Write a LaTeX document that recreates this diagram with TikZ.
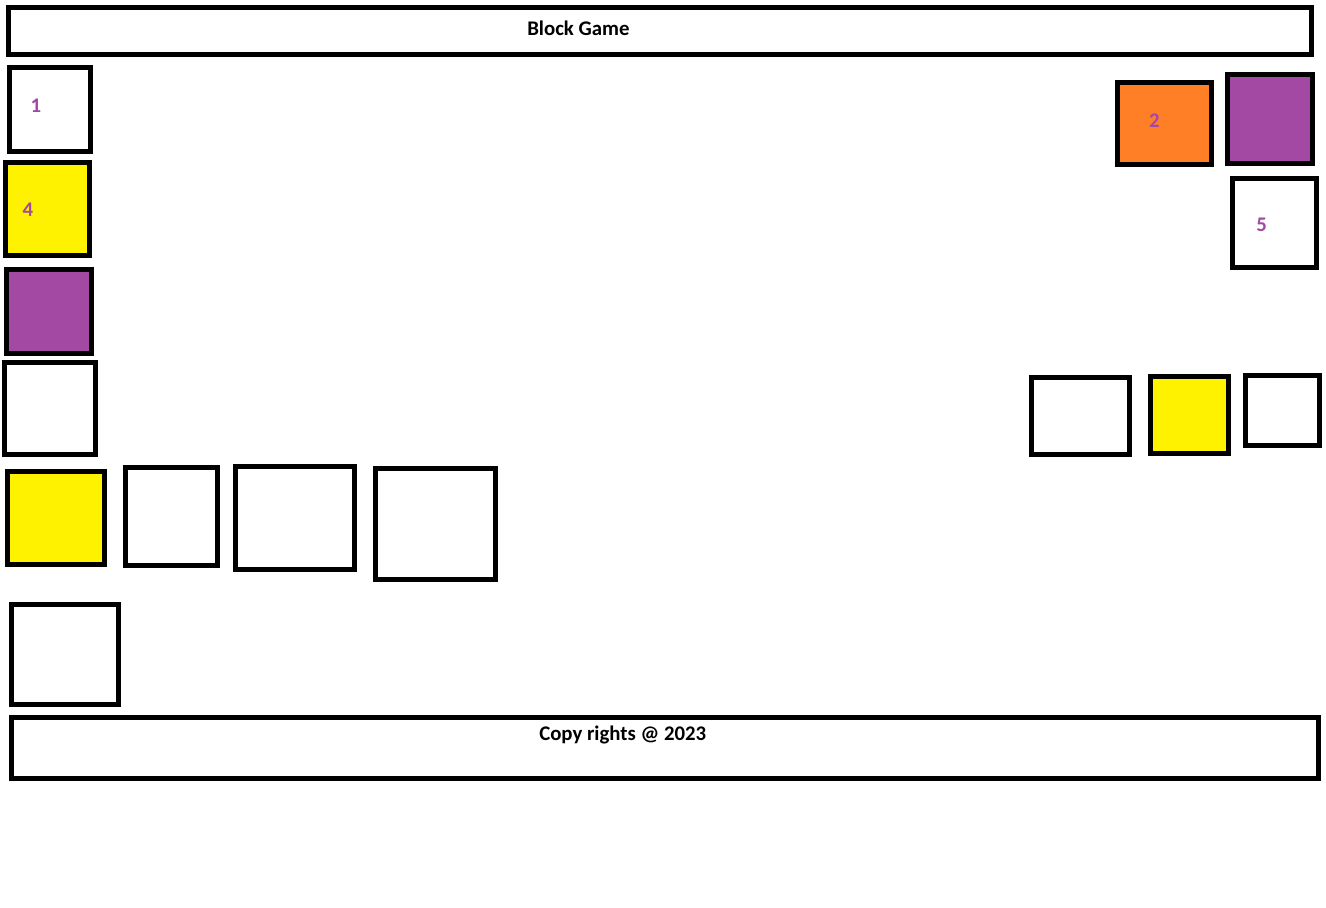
\documentclass[tikz,border=0pt]{standalone}
\usepackage{fontspec}
\setmainfont{Carlito}
\definecolor{pyellow}{HTML}{FFF200}
\definecolor{porange}{HTML}{FF7F27}
\definecolor{ppurple}{HTML}{A349A4}
\tikzset{
  box/.style={draw=black, line width=3.75pt, fill=white},
  ybox/.style={box, fill=pyellow},
  obox/.style={box, fill=porange},
  pbox/.style={box, fill=ppurple},
  title/.style={font=\fontsize{15.6}{18}\selectfont\bfseries, text=black, inner sep=0pt, anchor=base west},
  num/.style={font=\fontsize{15.6}{18}\selectfont\bfseries, text=ppurple, inner sep=0pt, anchor=base}
}
\begin{document}
\begin{tikzpicture}[x=0.75pt, y=-0.75pt]
\useasboundingbox (0,0) rectangle (1326,907);
% header and footer
\draw[box] (8.5,7.5) rectangle (1311.5,54.5);
\draw[box] (11.5,717.5) rectangle (1318.5,778);
% left column
\draw[box]  (9.5,67.5) rectangle (90.2,151.5);
\draw[ybox] (5.5,162.5) rectangle (89.2,255.2);
\draw[pbox] (6.5,269) rectangle (91.5,353);
\draw[box]  (4.5,362.5) rectangle (95.5,454);
% bottom-left row
\draw[ybox] (7.5,471.5) rectangle (104,564);
\draw[box]  (125.5,467.5) rectangle (217.5,565);
\draw[box]  (235.5,466.5) rectangle (354,569);
\draw[box]  (375.5,468.5) rectangle (495,579);
\draw[box]  (11.5,604.5) rectangle (118,704);
% top right
\draw[obox] (1117.5,82.5) rectangle (1211.5,164.5);
\draw[pbox] (1227.5,74.5) rectangle (1312.5,163.5);
\draw[box]  (1232.5,178.5) rectangle (1316.5,267.5);
% right row
\draw[box]  (1031.5,377.5) rectangle (1129,454);
\draw[ybox] (1150.5,376.5) rectangle (1228.5,453);
\draw[box]  (1245.5,375.5) rectangle (1319,445);
% texts
\node[title] (t) at (527,35) {Block Game};
\node[title] (f) at (539,740.5) {Copy rights @ 2023};
\node[num] (n1) at (36,112) {1};
\node[num] (n4) at (28,216) {4};
\node[num] (n2) at (1154.5,127) {2};
\node[num] (n5) at (1261.5,231.5) {5};
\end{tikzpicture}
\end{document}
